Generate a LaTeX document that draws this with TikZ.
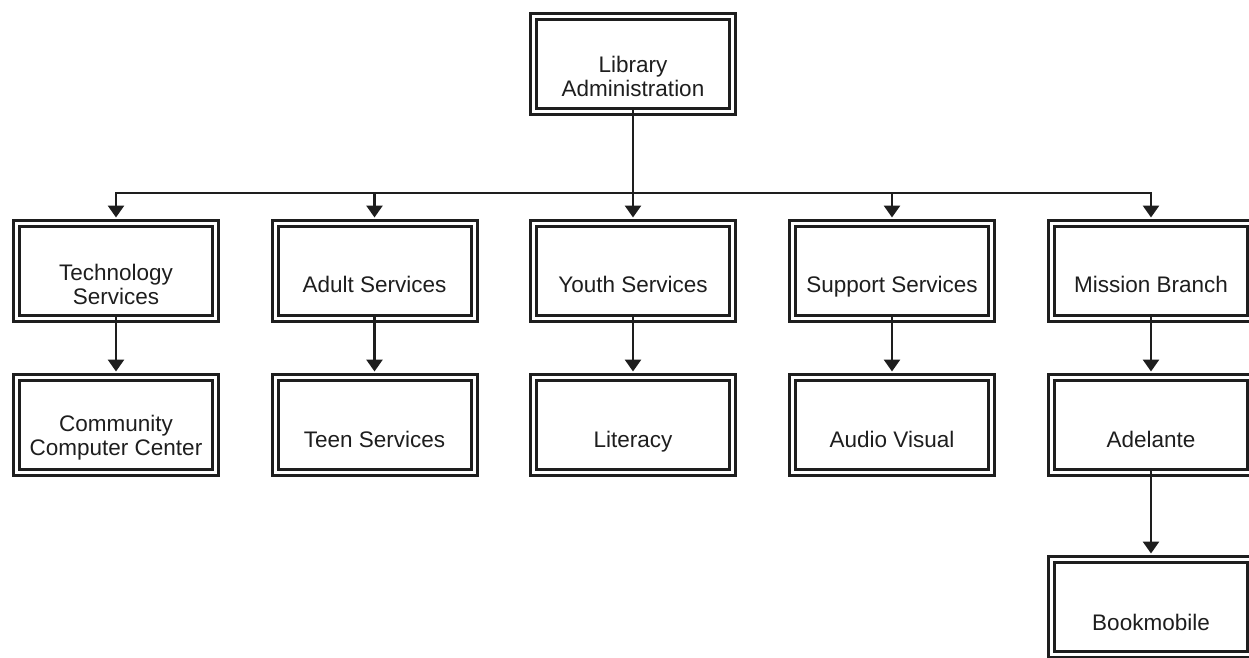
\documentclass[tikz,border=0pt]{standalone}
\usepackage{fontspec}
\setmainfont{Liberation Sans}
\usetikzlibrary{arrows.meta}
\definecolor{ink}{HTML}{1E1E1E}
\tikzset{
  orgbox/.style={draw=ink, line width=3pt, double=white, double distance=3pt,
    minimum width=199pt, minimum height=95pt, inner sep=0pt},
  txt/.style={align=center, text=ink, inner sep=0pt,
    font=\fontsize{22.5}{24}\selectfont},
  oneline/.style={txt, text height=16pt, text depth=5pt},
  conn/.style={draw=ink, line width=2.8pt},
  arr/.style={conn, -{Triangle[width=16pt,length=12pt]}, shorten >=4.5pt}
}
\begin{document}
\begin{tikzpicture}[x=1pt,y=-1pt]
\useasboundingbox[fill=white] (0,0) rectangle (1249,657);
\node[orgbox] (lib) at (633,63.5) {};
\node[orgbox] (tech) at (116,271) {};
\node[orgbox] (adult) at (374.5,271) {};
\node[orgbox] (youth) at (633,271) {};
\node[orgbox] (support) at (892,271) {};
\node[orgbox] (mission) at (1151,271) {};
\node[orgbox] (ccc) at (116,425) {};
\node[orgbox] (teen) at (374.5,425) {};
\node[orgbox] (lit) at (633,425) {};
\node[orgbox] (av) at (892,425) {};
\node[orgbox] (adel) at (1151,425) {};
\node[orgbox] (book) at (1151,607) {};
\node[txt] (libt) at ([yshift=-12.5pt]lib.center) {Library\\Administration};
\node[txt] (techt) at ([yshift=-13pt]tech.center) {Technology\\Services};
\node[oneline] (adultt) at ([yshift=-16pt]adult.center) {Adult Services};
\node[oneline] (youtht) at ([yshift=-16pt]youth.center) {Youth Services};
\node[oneline] (supportt) at ([yshift=-16pt]support.center) {Support Services};
\node[oneline] (missiont) at ([yshift=-16pt]mission.center) {Mission Branch};
\node[txt] (ccct) at ([yshift=-13pt]ccc.center) {Community\\Computer Center};
\node[oneline] (teent) at ([yshift=-16.5pt]teen.center) {Teen Services};
\node[oneline] (litt) at ([yshift=-16.5pt]lit.center) {Literacy};
\node[oneline] (avt) at ([yshift=-16.5pt]av.center) {Audio Visual};
\node[oneline] (adelt) at ([yshift=-16.5pt]adel.center) {Adelante};
\node[oneline] (bookt) at ([yshift=-17.5pt]book.center) {Bookmobile};
\coordinate (bus) at (633,193);
\draw[conn, shorten <=-4.5pt] (lib.south) -- (bus);
\foreach \n in {tech,adult,youth,support,mission}{
  \draw[arr] (bus) -| (\n.north);
}
\draw[arr, shorten <=-4.5pt] (tech.south) -- (ccc.north);
\draw[arr, shorten <=-4.5pt] (adult.south) -- (teen.north);
\draw[arr, shorten <=-4.5pt] (youth.south) -- (lit.north);
\draw[arr, shorten <=-4.5pt] (support.south) -- (av.north);
\draw[arr, shorten <=-4.5pt] (mission.south) -- (adel.north);
\draw[arr, shorten <=-4.5pt] (adel.south) -- (book.north);
\end{tikzpicture}
\end{document}
